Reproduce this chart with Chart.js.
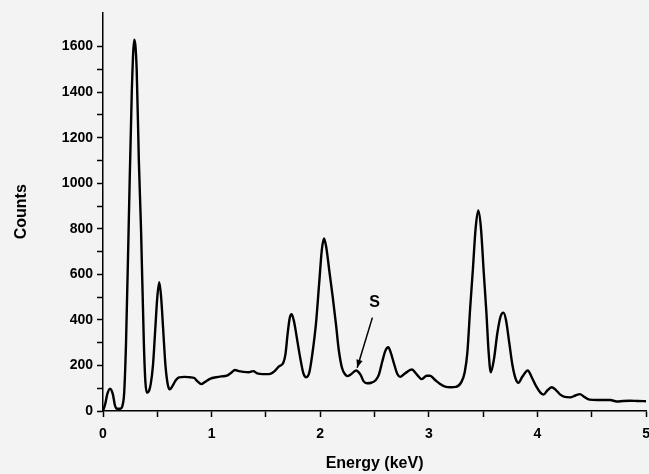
<!DOCTYPE html>
<html>
<head>
<meta charset="utf-8">
<script src="https://cdn.jsdelivr.net/npm/chart.js@4.4.1/dist/chart.umd.min.js"></script>
<style>
  html, body { margin: 0; padding: 0; background: #f3f3f3; overflow: hidden; }
  #clip { width: 649px; height: 474px; overflow: hidden; }
  #wrap { width: 659px; height: 474px; position: relative; }
</style>
</head>
<body>
<div id="clip"><div id="wrap"><canvas id="eds"></canvas></div></div>
<script>
// EDS spectrum (keV, counts)
const energy = [
  0.00, 0.02, 0.04, 0.065, 0.09, 0.11, 0.13, 0.16, 0.18, 0.195,
  0.212, 0.236, 0.265, 0.288, 0.31, 0.33, 0.35, 0.376, 0.39, 0.405,
  0.425, 0.44, 0.46, 0.48, 0.50, 0.518, 0.535, 0.555, 0.575, 0.595,
  0.614, 0.64, 0.67, 0.70, 0.75, 0.80, 0.84, 0.87, 0.905, 0.94,
  0.99, 1.04, 1.09, 1.14, 1.18, 1.215, 1.25, 1.29, 1.34, 1.384,
  1.42, 1.47, 1.53, 1.58, 1.62, 1.66, 1.68, 1.70, 1.72, 1.737,
  1.76, 1.785, 1.815, 1.845, 1.87, 1.90, 1.93, 1.96, 1.99, 2.015,
  2.035, 2.055, 2.085, 2.115, 2.145, 2.17, 2.20, 2.23, 2.25, 2.28,
  2.33, 2.37, 2.40, 2.43, 2.47, 2.51, 2.54, 2.57, 2.60, 2.627,
  2.65, 2.675, 2.71, 2.735, 2.78, 2.842, 2.89, 2.935, 2.98, 3.01,
  3.06, 3.10, 3.15, 3.20, 3.25, 3.30, 3.33, 3.355, 3.38, 3.405,
  3.43, 3.455, 3.48, 3.505, 3.53, 3.55, 3.57, 3.60, 3.63, 3.66,
  3.686, 3.71, 3.74, 3.77, 3.80, 3.824, 3.86, 3.91, 3.95, 3.99,
  4.025, 4.055, 4.09, 4.13, 4.17, 4.21, 4.25, 4.30, 4.35, 4.39,
  4.43, 4.48, 4.55, 4.62, 4.67, 4.73, 4.79, 4.85, 4.92, 5.00
];
const counts = [
  0, 30, 75, 98, 75, 25, 10, 10, 25, 80,
  300, 800, 1400, 1630, 1500, 1100, 800, 300, 130, 80,
  90, 120, 200, 350, 500, 566, 500, 350, 200, 120,
  95, 110, 135, 148, 150, 148, 145, 130, 118, 128,
  142, 148, 152, 155, 168, 180, 175, 172, 170, 175,
  165, 162, 162, 175, 196, 212, 250, 340, 410, 425,
  390, 320, 235, 165, 148, 170, 260, 380, 560, 710,
  758, 720, 610, 500, 380, 270, 190, 160, 153, 160,
  178, 160, 130, 122, 124, 135, 160, 215, 265, 280,
  255, 215, 162, 150, 165, 182, 160, 140, 155, 155,
  135, 120, 107, 104, 106, 128, 170, 260, 450, 620,
  800, 880, 800, 610, 430, 260, 170, 230, 340, 415,
  432, 400, 300, 200, 140, 124, 150, 178, 145, 107,
  82, 72, 90, 104, 92, 72, 62, 60, 68, 74,
  62, 50, 48, 48, 48, 42, 44, 45, 44, 43
];

// the "S" label and its arrow, in data units
const sLabel = { text: 'S', x: 2.50, y: 475 };
const sArrow = { fromX: 2.48, fromY: 410, toX: 2.34, toY: 190 };

const xTicks = { min: 0, max: 5, step: 0.5 };
const yTicks = { min: 0, max: 1750, step: 100 };

const fontFam = '"Liberation Sans", Arial, sans-serif';

const annotate = {
  id: 'annotate',
  afterDatasetsDraw(chart) {
    const { ctx, scales: { x, y } } = chart;
    const x1 = x.getPixelForValue(sArrow.fromX), y1 = y.getPixelForValue(sArrow.fromY);
    const x2 = x.getPixelForValue(sArrow.toX), y2 = y.getPixelForValue(sArrow.toY);
    ctx.save();
    ctx.strokeStyle = '#000';
    ctx.fillStyle = '#000';
    ctx.lineWidth = 1.5;
    ctx.beginPath();
    ctx.moveTo(x1, y1);
    ctx.lineTo(x2, y2);
    ctx.stroke();
    // arrow head
    const a = Math.atan2(y2 - y1, x2 - x1);
    const len = 8, wid = 3.2;
    ctx.beginPath();
    ctx.moveTo(x2, y2);
    ctx.lineTo(x2 - len * Math.cos(a) + wid * Math.sin(a), y2 - len * Math.sin(a) - wid * Math.cos(a));
    ctx.lineTo(x2 - len * Math.cos(a) - wid * Math.sin(a), y2 - len * Math.sin(a) + wid * Math.cos(a));
    ctx.closePath();
    ctx.fill();
    ctx.font = 'bold 16px ' + fontFam;
    ctx.textAlign = 'center';
    ctx.textBaseline = 'middle';
    ctx.fillText(sLabel.text, x.getPixelForValue(sLabel.x), y.getPixelForValue(sLabel.y));
    ctx.restore();
  }
};

new Chart(document.getElementById('eds'), {
  type: 'line',
  data: {
    labels: energy,
    datasets: [{
      data: energy.map((e, i) => ({ x: e, y: counts[i] })),
      borderColor: '#000',
      borderWidth: 2.4,
      pointRadius: 0,
      cubicInterpolationMode: 'monotone',
      fill: false
    }]
  },
  options: {
    responsive: true,
    maintainAspectRatio: false,
    animation: false,
    layout: { padding: { top: 12, right: 3, left: 0, bottom: 0 } },
    plugins: { legend: { display: false }, tooltip: { enabled: false } },
    scales: {
      x: {
        type: 'linear',
        min: xTicks.min,
        max: xTicks.max,
        afterFit: (s) => { s.height = 63; },
        ticks: {
          stepSize: xTicks.step,
          autoSkip: false,
          maxRotation: 0,
          color: '#000',
          padding: 9,
          font: { family: fontFam, size: 14, weight: 'bold' },
          callback: (v) => Number.isInteger(v) ? v : ''
        },
        grid: { drawOnChartArea: false, drawTicks: true, tickLength: 6, tickColor: '#000', tickWidth: 1.5 },
        border: { display: true, color: '#000', width: 1.5 },
        title: {
          display: true, text: 'Energy (keV)', color: '#000',
          font: { family: fontFam, size: 16, weight: 'bold' },
          padding: { top: 0, bottom: 1 }
        }
      },
      y: {
        min: yTicks.min,
        max: yTicks.max,
        afterFit: (s) => { s.width = 103; },
        afterBuildTicks: (s) => { s.ticks = s.ticks.filter(t => t.value % yTicks.step === 0); },
        ticks: {
          stepSize: yTicks.step,
          autoSkip: false,
          color: '#000',
          padding: 4,
          font: { family: fontFam, size: 14, weight: 'bold' },
          callback: (v) => v % 200 === 0 ? v : ''
        },
        grid: { drawOnChartArea: false, drawTicks: true, tickLength: 6, tickColor: '#000', tickWidth: 1.5 },
        border: { display: true, color: '#000', width: 1.5 },
        title: {
          display: true, text: 'Counts', color: '#000',
          font: { family: fontFam, size: 16, weight: 'bold' },
          padding: { top: 12, bottom: 0 }
        }
      }
    }
  },
  plugins: [annotate]
});
</script>
</body>
</html>
